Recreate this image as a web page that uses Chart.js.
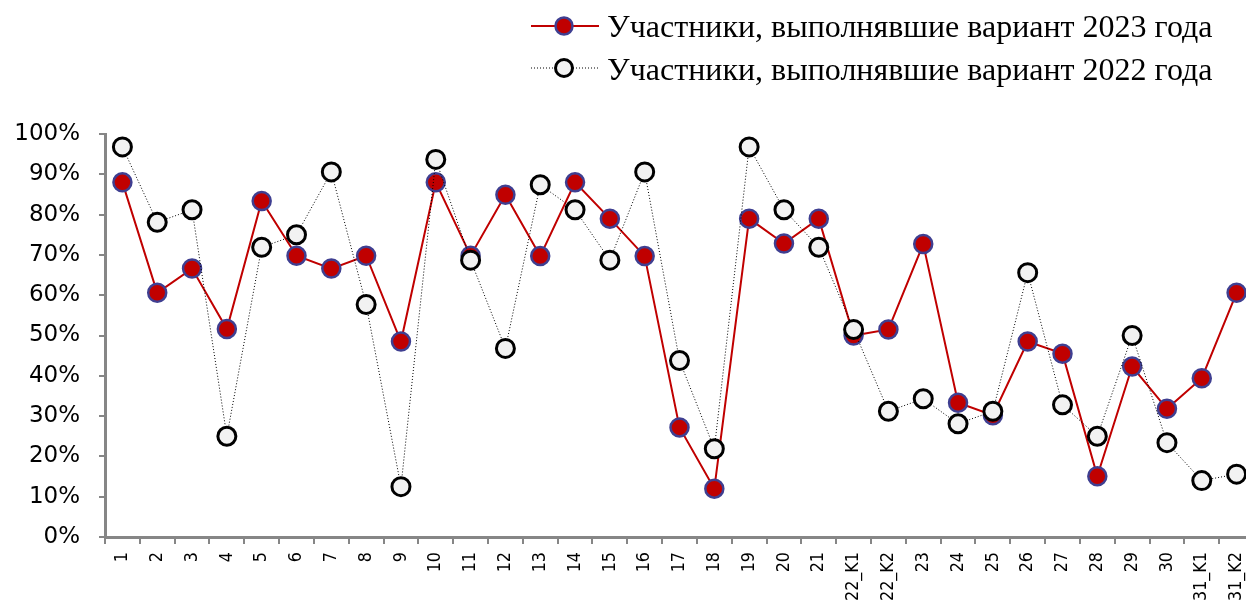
<!DOCTYPE html>
<html>
<head>
<meta charset="utf-8">
<script src="https://cdn.jsdelivr.net/npm/chart.js@4.4.1/dist/chart.umd.min.js"></script>
<style>
  html, body { margin: 0; padding: 0; background: #fff; overflow: hidden; }
  /* a bit wider than the window: the last category runs off the right edge in the original */
  #wrap { width: 1266px; height: 612px; position: relative; }
</style>
</head>
<body>
<div id="wrap"><canvas id="chart"></canvas></div>
<script>
// Task numbers
const tasks = ['1', '2', '3', '4', '5', '6', '7', '8', '9', '10', '11', '12', '13', '14', '15', '16',
  '17', '18', '19', '20', '21', '22_K1', '22_K2', '23', '24', '25', '26', '27', '28', '29', '30', '31_K1', '31_K2'];

// Percent of participants who completed the task
const results2023 = [88, 60.6, 66.6, 51.6, 83.4, 69.8, 66.6, 69.8, 48.5, 88, 69.8, 84.9, 69.7, 88, 79,
  69.7, 27.2, 12, 79, 72.8, 79, 50, 51.5, 72.7, 33.3, 30.2, 48.5, 45.5, 15.1, 42.3, 31.8, 39.4, 60.6];
const results2022 = [96.8, 78.1, 81.2, 25, 71.9, 75, 90.6, 57.7, 12.5, 93.7, 68.7, 46.8, 87.4, 81.2,
  68.7, 90.6, 43.8, 21.9, 96.8, 81.2, 71.9, 51.5, 31.2, 34.3, 28.1, 31.2, 65.6, 32.8, 25, 50, 23.4, 14, 15.6];

const seriesNames = ['Участники, выполнявшие вариант 2023 года', 'Участники, выполнявшие вариант 2022 года'];

const axisColor = '#868686';

// Custom legend: line + marker + text, top right
const legendPlugin = {
  id: 'customLegend',
  afterDraw: function(chart) {
    const ctx = chart.ctx;
    const rows = [
      { y: 26, base: 37, line: '#C00000', lw: 2, dash: [], fill: '#C00000', stroke: '#3F3F91', bw: 2.5 },
      { y: 68, base: 80, line: '#000000', lw: 1, dash: [1, 2], fill: '#F2F2F2', stroke: '#000000', bw: 3 }
    ];
    ctx.save();
    rows.forEach((r, i) => {
      ctx.beginPath();
      ctx.setLineDash(r.dash);
      ctx.strokeStyle = r.line;
      ctx.lineWidth = r.lw;
      ctx.moveTo(531, r.y);
      ctx.lineTo(599, r.y);
      ctx.stroke();
      ctx.setLineDash([]);
      ctx.beginPath();
      ctx.arc(564, r.y, 8.5, 0, Math.PI * 2);
      ctx.fillStyle = r.fill;
      ctx.fill();
      ctx.lineWidth = r.bw;
      ctx.strokeStyle = r.stroke;
      ctx.stroke();
      ctx.fillStyle = '#000';
      ctx.font = '32px "Liberation Serif"';
      ctx.textBaseline = 'alphabetic';
      ctx.fillText(seriesNames[i], 607, r.base);
    });
    ctx.restore();
  }
};

// Rotated category labels, slightly stretched across like in the original
const xLabelPlugin = {
  id: 'xLabels',
  afterDraw: function(chart) {
    const ctx = chart.ctx;
    const xs = chart.scales.x;
    const top = chart.chartArea.bottom + 15;
    ctx.save();
    ctx.fillStyle = '#000';
    ctx.font = '16px "DejaVu Sans"';
    ctx.textAlign = 'right';
    ctx.textBaseline = 'middle';
    tasks.forEach((t, i) => {
      ctx.save();
      ctx.translate(xs.getPixelForTick(i), top);
      ctx.rotate(-Math.PI / 2);
      ctx.scale(1, 1.12);
      ctx.fillText(t, 0, 0);
      ctx.restore();
    });
    ctx.restore();
  }
};

new Chart(document.getElementById('chart'), {
  type: 'line',
  data: {
    labels: tasks,
    datasets: [
      {
        label: seriesNames[0],
        data: results2023,
        order: 2,
        borderColor: '#C00000',
        borderWidth: 2,
        backgroundColor: '#C00000',
        pointBackgroundColor: '#C00000',
        pointBorderColor: '#3F3F91',
        pointBorderWidth: 2.5,
        pointRadius: 9,
        tension: 0,
        fill: false
      },
      {
        label: seriesNames[1],
        data: results2022,
        order: 1,
        borderColor: '#000000',
        borderWidth: 1,
        borderDash: [1, 2],
        backgroundColor: '#F2F2F2',
        pointBackgroundColor: '#F2F2F2',
        pointBorderColor: '#000000',
        pointBorderWidth: 3,
        pointRadius: 9,
        tension: 0,
        fill: false
      }
    ]
  },
  options: {
    responsive: true,
    maintainAspectRatio: false,
    animation: false,
    layout: {
      padding: { top: 134, right: 0, left: 0, bottom: 0 }
    },
    plugins: {
      legend: { display: false },
      tooltip: { enabled: false }
    },
    scales: {
      x: {
        offset: true,
        grid: {
          offset: true,
          drawOnChartArea: false,
          drawTicks: true,
          tickLength: 7,
          color: axisColor,
          lineWidth: 2
        },
        border: { color: axisColor, width: 3 },
        ticks: { display: false, autoSkip: false },
        afterFit: function(scale) { scale.height = 75; }
      },
      y: {
        min: 0,
        max: 100,
        grid: {
          drawOnChartArea: false,
          drawTicks: true,
          tickLength: 6,
          color: axisColor,
          lineWidth: 2
        },
        border: { color: axisColor, width: 3 },
        ticks: {
          stepSize: 10,
          color: '#000',
          font: { family: 'DejaVu Sans', size: 23 },
          padding: 19,
          callback: function(value) { return value + '%'; }
        },
        afterFit: function(scale) { scale.width = 105; }
      }
    }
  },
  plugins: [legendPlugin, xLabelPlugin]
});
</script>
</body>
</html>
